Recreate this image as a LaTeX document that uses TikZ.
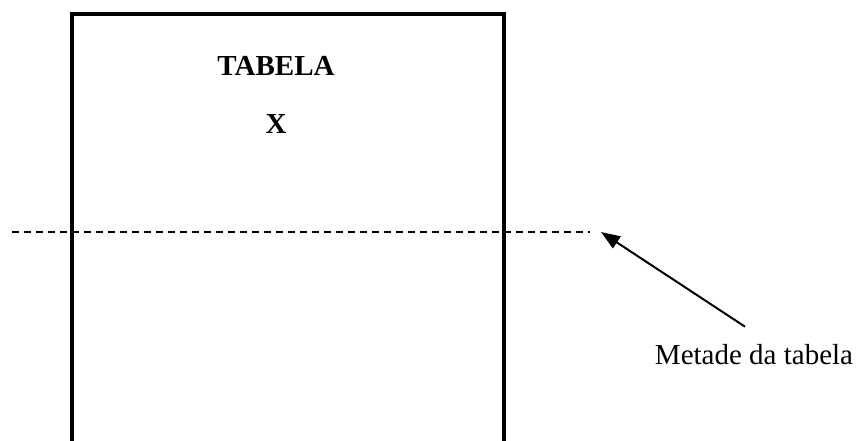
\documentclass[tikz,border=0pt]{standalone}
\usepackage{fontspec}
\setmainfont{Liberation Serif}
\usepackage{tikz}
\usetikzlibrary{arrows.meta}

\begin{document}
\begin{tikzpicture}[x=1pt, y=-1pt, font=\fontsize{29}{34}\selectfont,
    seta/.style={line width=2pt, -{Triangle[length=19pt, width=14pt]}}]
    \useasboundingbox (0, 0) rectangle (859, 441);

    \draw[line width=4pt] (72, 460) -- (72, 14) -- (504, 14) -- (504, 460);
    \node[anchor=base, font=\fontsize{29}{34}\selectfont\bfseries] at (276, 76) (titulo) {TABELA};
    \node[anchor=base, font=\fontsize{29}{34}\selectfont\bfseries] at (276, 133) (xis) {X};

    \coordinate (inicio) at (12, 232);
    \coordinate (ponta) at (601, 232);
    \draw[line width=2pt, dash pattern=on 7pt off 5pt] (inicio) -- (590, 232);

    \node[anchor=base, inner sep=0pt] at (754, 364) (metade) {Metade da tabela};
    \draw[seta] ([xshift=-9pt, yshift=17pt]metade.north) -- (ponta);
\end{tikzpicture}
\end{document}
